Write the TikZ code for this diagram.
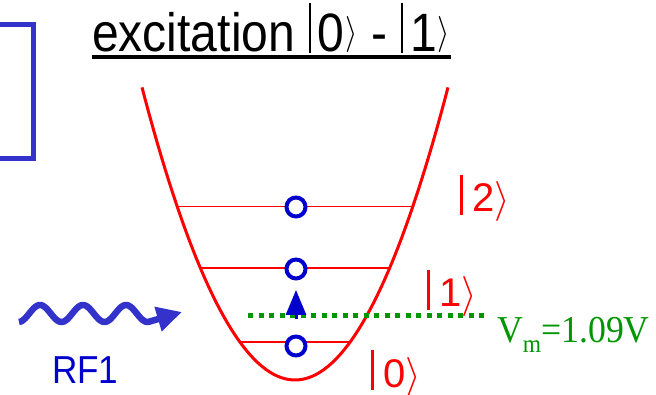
\documentclass[tikz,border=0pt]{standalone}
\usepackage{fontspec}
\setmainfont{Liberation Sans}
\newfontfamily\timesfont{Liberation Serif}
\usetikzlibrary{arrows.meta, positioning, calc}
\definecolor{wellred}{RGB}{255,0,0}
\definecolor{dotblue}{RGB}{0,0,204}
\definecolor{waveblue}{RGB}{51,51,204}
\definecolor{vgreen}{RGB}{0,150,0}
\newcommand{\titleket}[1]{\rule[-1pt]{3pt}{50pt}\hspace{0.14em}#1\hspace{0.02em}\raisebox{8pt}{\scalebox{3.6}{\normalsize$\rangle$}}}
\newcommand{\levelket}[1]{\rule[-3pt]{2.5pt}{40pt}\hspace{10pt}#1\scalebox{4}{\normalsize$\rangle$}}
\tikzset{level/.style={wellred, line width=1.8pt},
    atom/.style={circle, draw=dotblue, fill=white, line width=4pt, minimum size=19pt, inner sep=0pt},
    ketlabel/.style={wellred, anchor=base west, inner sep=0pt, font=\fontsize{40}{44}\selectfont},
    pump/.style={dotblue, line width=3pt, -{Triangle[length=25pt,width=20pt]}},
    wave/.style={waveblue, line width=6.5pt, -{Triangle[length=25pt,width=24pt]}}}

\begin{document}
\begin{tikzpicture}[x=1pt,y=-1pt]
\useasboundingbox (0,0) rectangle (656,395);
\draw[waveblue, line width=5pt] (0,24.5) -- (33.5,24.5) -- (33.5,158.5) -- (0,158.5);
\node[anchor=base west, inner sep=0pt, xscale=0.89, font=\fontsize{54}{60}\selectfont] (title) at (92,52)
    {excitation \titleket{0} - \titleket{1}};
\draw[line width=4pt] ([yshift=-5pt]title.base west) -- ([yshift=-5pt]title.base east);
\draw[wellred, line width=3pt] plot[domain=-153:153, samples=80] ({295+\x}, {380-\x/80*\x});
\foreach \lev/\y in {0/342,1/268,2/206.5}{
    \pgfmathsetmacro\w{sqrt(80*(380-\y))}
    \draw[level] ({295-\w},\y) -- ({295+\w},\y);
}
\coordinate (vleft) at (248,316);
\coordinate (vright) at (485,316);
\draw[vgreen, line width=5pt, dash pattern=on 5pt off 5.5pt] (vleft) -- (vright);
\node[atom] (a0) at (296,346) {};
\node[atom] (a1) at (296,269) {};
\node[atom] (a2) at (296,207) {};
\draw[pump, shorten <=15.5pt, shorten >=9.5pt] (a0) -- (a1);
\node[ketlabel] (k2) at (460,212) {\levelket{2}};
\node[ketlabel] (k1) at (427,307) {\levelket{1}};
\node[ketlabel] (k0) at (371,387) {\levelket{0}};
\node[vgreen, anchor=base west, inner sep=0pt, xscale=0.94, font=\timesfont\fontsize{38}{40}\selectfont] (vm) at (497,342)
    {V\raisebox{-10pt}{\fontsize{25}{25}\selectfont m}=1.09V};
\coordinate (rfend) at (182,312);
\draw[wave] plot[domain=19:150, samples=80] (\x, {313.5-8.5*cos((\x-40)/43*360)}) -- (rfend);
\node[dotblue, anchor=base west, inner sep=0pt, xscale=0.9, font=\fontsize{39}{42}\selectfont] (rf) at (52,383) {RF1};
\end{tikzpicture}
\end{document}
